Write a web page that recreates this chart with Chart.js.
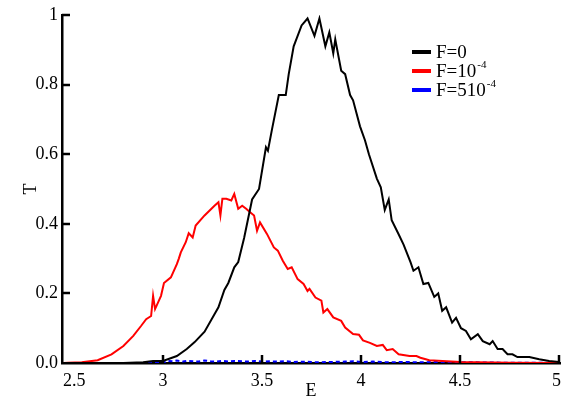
<!DOCTYPE html>
<html>
<head>
<meta charset="utf-8">
<script src="https://cdn.jsdelivr.net/npm/chart.js@4/dist/chart.umd.min.js"></script>
<style>
  html, body { margin: 0; padding: 0; background: #fff; }
  #wrap { width: 566px; height: 402px; }
</style>
</head>
<body>
<div id="wrap"><canvas id="chart" width="566" height="402"></canvas></div>
<script>
// values
const eBlack = [2.50, 2.80, 2.90, 2.95, 3.00, 3.07, 3.12, 3.16, 3.21, 3.26, 3.28, 3.31, 3.33, 3.36, 3.38, 3.41, 3.45, 3.485, 3.52, 3.53, 3.55, 3.585, 3.62, 3.635, 3.66, 3.70, 3.73, 3.765, 3.79, 3.82, 3.84, 3.86, 3.87, 3.90, 3.92, 3.945, 3.96, 3.995, 4.02, 4.04, 4.08, 4.10, 4.12, 4.14, 4.155, 4.19, 4.215, 4.25, 4.265, 4.29, 4.315, 4.34, 4.37, 4.39, 4.41, 4.43, 4.46, 4.48, 4.505, 4.53, 4.555, 4.59, 4.615, 4.65, 4.665, 4.69, 4.715, 4.74, 4.765, 4.79, 4.85, 4.90, 4.95, 5.00];
const tBlack = [0, 0, 0.002, 0.006, 0.006, 0.02, 0.04, 0.06, 0.09, 0.14, 0.16, 0.21, 0.23, 0.275, 0.29, 0.36, 0.47, 0.50, 0.62, 0.61, 0.67, 0.77, 0.77, 0.83, 0.91, 0.97, 0.99, 0.94, 0.99, 0.91, 0.95, 0.89, 0.93, 0.84, 0.83, 0.77, 0.755, 0.68, 0.64, 0.60, 0.53, 0.505, 0.44, 0.47, 0.41, 0.37, 0.34, 0.29, 0.265, 0.275, 0.227, 0.23, 0.19, 0.20, 0.15, 0.16, 0.116, 0.13, 0.10, 0.092, 0.068, 0.083, 0.063, 0.054, 0.063, 0.04, 0.04, 0.025, 0.025, 0.017, 0.017, 0.011, 0.006, 0.003];

const eRed = [2.50, 2.52, 2.59, 2.67, 2.74, 2.80, 2.85, 2.89, 2.915, 2.94, 2.95, 2.96, 2.99, 3.005, 3.04, 3.07, 3.08, 3.09, 3.115, 3.13, 3.15, 3.165, 3.21, 3.26, 3.28, 3.29, 3.30, 3.32, 3.345, 3.36, 3.38, 3.40, 3.42, 3.44, 3.46, 3.475, 3.49, 3.525, 3.56, 3.58, 3.605, 3.63, 3.65, 3.68, 3.71, 3.73, 3.74, 3.77, 3.80, 3.81, 3.83, 3.86, 3.90, 3.92, 3.96, 3.99, 4.01, 4.045, 4.08, 4.11, 4.13, 4.16, 4.19, 4.245, 4.28, 4.30, 4.345, 4.50, 4.75, 5.00];
const tRed = [0, 0.001, 0.002, 0.008, 0.025, 0.049, 0.078, 0.107, 0.126, 0.135, 0.193, 0.155, 0.193, 0.23, 0.246, 0.284, 0.30, 0.318, 0.347, 0.373, 0.361, 0.395, 0.424, 0.452, 0.462, 0.424, 0.472, 0.472, 0.467, 0.486, 0.443, 0.452, 0.443, 0.433, 0.424, 0.38, 0.404, 0.371, 0.332, 0.323, 0.294, 0.27, 0.275, 0.241, 0.227, 0.207, 0.213, 0.188, 0.179, 0.145, 0.155, 0.131, 0.121, 0.102, 0.083, 0.081, 0.065, 0.058, 0.049, 0.052, 0.037, 0.04, 0.025, 0.02, 0.02, 0.015, 0.008, 0.003, 0.001, 0];

const eBlue = [2.50, 3.00, 3.02, 3.05, 3.07, 3.10, 3.12, 3.15, 3.18, 3.21, 3.24, 3.27, 3.30, 3.33, 3.36, 3.40, 3.43, 3.46, 3.50, 3.54, 3.58, 3.62, 3.66, 3.72, 3.78, 3.85, 3.92, 3.96, 4.00, 4.06, 4.14, 4.22, 4.30, 4.38, 4.46, 4.55, 4.70, 4.85, 5.00];
const tBlue = [0, 0, 0.006, 0.005, 0.007, 0.004, 0.006, 0.005, 0.004, 0.007, 0.005, 0.004, 0.006, 0.004, 0.006, 0.005, 0.004, 0.006, 0.004, 0.005, 0.004, 0.005, 0.003, 0.004, 0.002, 0.003, 0.004, 0.005, 0.003, 0.004, 0.002, 0.003, 0.002, 0.003, 0.002, 0.002, 0.001, 0.001, 0];

const xTicks = [2.5, 3, 3.5, 4, 4.5, 5];
const yTicks = [0, 0.2, 0.4, 0.6, 0.8, 1];
const seriesNames = ['F=0', 'F=10', 'F=510'];
const seriesSup = ['', '-4', '-4'];
const seriesColors = ['#000000', '#ff0000', '#0000ff'];

const FONT = '"Liberation Serif", "Times New Roman", serif';

function toPoints(xs, ys) {
  return xs.map((x, i) => ({ x: x, y: ys[i] }));
}

// inward tick marks, x tick labels kept inside the axis, legend with superscripts
const extras = {
  id: 'extras',
  afterDraw(chart) {
    const ctx = chart.ctx;
    const xs = chart.scales.x, ys = chart.scales.y;
    const a = chart.chartArea;
    ctx.save();
    ctx.strokeStyle = '#000';
    ctx.lineWidth = 2.5;
    xTicks.forEach(v => {
      const px = Math.round(xs.getPixelForValue(v));
      if (px > a.left + 2) {
        ctx.beginPath();
        ctx.moveTo(px, a.bottom);
        ctx.lineTo(px, a.bottom - 8);
        ctx.stroke();
      }
      ctx.font = '18px ' + FONT;
      ctx.fillStyle = '#000';
      ctx.textAlign = 'center';
      ctx.textBaseline = 'middle';
      const label = String(v);
      const w = ctx.measureText(label).width;
      const cx = Math.min(Math.max(px, a.left + w / 2 + 1), a.right - w / 2 + 1);
      ctx.fillText(label, cx, a.bottom + 18);
    });
    yTicks.forEach(v => {
      if (v === 0) return;
      const py = Math.round(ys.getPixelForValue(v));
      ctx.beginPath();
      ctx.moveTo(a.left, py);
      ctx.lineTo(a.left + 8, py);
      ctx.stroke();
    });

    // legend
    chart.data.datasets.forEach((ds, i) => {
      const y = 52 + i * 19;
      ctx.strokeStyle = ds.borderColor;
      ctx.lineWidth = 4;
      ctx.setLineDash([]);
      ctx.beginPath();
      ctx.moveTo(412, y);
      ctx.lineTo(431, y);
      ctx.stroke();
      ctx.fillStyle = '#000';
      ctx.textBaseline = 'middle';
      ctx.textAlign = 'left';
      ctx.font = '19px ' + FONT;
      ctx.fillText(seriesNames[i], 436, y + 1);
      if (seriesSup[i]) {
        const w = ctx.measureText(seriesNames[i]).width;
        ctx.font = '11px ' + FONT;
        ctx.fillText(seriesSup[i], 436 + w + 1, y - 6);
      }
    });
    ctx.restore();
  }
};

new Chart(document.getElementById('chart'), {
  type: 'scatter',
  data: {
    datasets: [
      { label: 'F=0', data: toPoints(eBlack, tBlack), borderColor: seriesColors[0] },
      { label: 'F=10^-4', data: toPoints(eRed, tRed), borderColor: seriesColors[1] },
      { label: 'F=510^-4', data: toPoints(eBlue, tBlue), borderColor: seriesColors[2], borderDash: [4, 3] }
    ].map(d => Object.assign(d, { showLine: true, pointRadius: 0, borderWidth: 2, tension: 0, fill: false }))
  },
  options: {
    responsive: false,
    animation: false,
    events: [],
    layout: { padding: { left: 0, right: 6, top: 15, bottom: 0 } },
    plugins: { legend: { display: false }, tooltip: { enabled: false } },
    scales: {
      x: {
        type: 'linear',
        min: 2.49,
        max: 5.005,
        afterBuildTicks: s => { s.ticks = xTicks.map(v => ({ value: v })); },
        afterFit: s => { s.height = 39; },
        grid: { display: false, drawTicks: false },
        border: { display: true, color: '#000', width: 2.5 },
        ticks: { display: false },
        title: { display: true, text: 'E', color: '#000', font: { family: FONT, size: 18 }, padding: { top: 0, bottom: 0 } }
      },
      y: {
        min: 0,
        max: 1,
        afterBuildTicks: s => { s.ticks = yTicks.map(v => ({ value: v })); },
        afterFit: s => { s.width = 62; },
        grid: { display: false, drawTicks: false },
        border: { display: true, color: '#000', width: 2.5 },
        ticks: { color: '#000', font: { family: FONT, size: 18 }, padding: 4,
          callback: v => v === 0 ? '0.0' : (v === 1 ? '1' : v.toFixed(1)) },
        title: { display: true, text: 'T', color: '#000', font: { family: FONT, size: 18 }, padding: { top: 20, bottom: 0 } }
      }
    }
  },
  plugins: [extras]
});
</script>
</body>
</html>
